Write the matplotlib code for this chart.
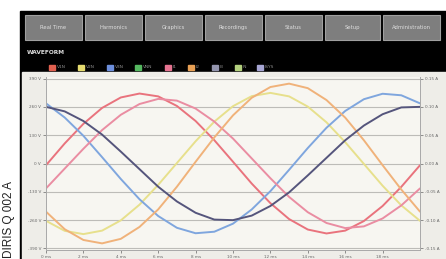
import matplotlib
matplotlib.use("Agg")
import matplotlib.pyplot as plt
from matplotlib.patches import Rectangle

# ---------------- data ----------------
time_ms = list(range(0, 21))  # 0..20 ms
v1 = [-8, 92, 182, 255, 303, 321, 308, 264, 195, 107, 8, -92, -182, -255, -303, -321, -308, -264, -195, -107, -8]
v2 = [-263, -309, -324, -308, -261, -189, -98, 2, 102, 192, 263, 309, 324, 308, 261, 189, 98, -2, -102, -192, -263]
v3 = [276, 211, 127, 29, -71, -164, -241, -295, -320, -313, -276, -211, -127, -29, 71, 164, 241, 295, 320, 313, 276]
i1 = [-0.044, -0.009, 0.026, 0.059, 0.086, 0.105, 0.114, 0.111, 0.097, 0.074, 0.044, 0.009, -0.026, -0.059, -0.086, -0.105, -0.114, -0.111, -0.097, -0.074, -0.044]
i2 = [-0.085, -0.116, -0.135, -0.141, -0.133, -0.112, -0.081, -0.041, 0.003, 0.046, 0.085, 0.116, 0.135, 0.141, 0.133, 0.112, 0.081, 0.041, -0.003, -0.046, -0.085]
i3 = [0.100, 0.092, 0.075, 0.051, 0.021, -0.010, -0.041, -0.067, -0.087, -0.099, -0.100, -0.092, -0.075, -0.051, -0.021, 0.010, 0.041, 0.067, 0.087, 0.099, 0.100]

v_ticks = [-390, -260, -130, 0, 130, 260, 390]
v_tick_labels = ["-390 V", "-260 V", "-130 V", "0 V", "130 V", "260 V", "390 V"]
i_ticks = [-0.15, -0.10, -0.05, 0.0, 0.05, 0.10, 0.15]
i_tick_labels = ["-0.15 A", "-0.10 A", "-0.05 A", "0.00 A", "0.05 A", "0.10 A", "0.15 A"]
x_ticks = [0, 2, 4, 6, 8, 10, 12, 14, 16, 18]
x_tick_labels = ["0 ms", "2 ms", "4 ms", "6 ms", "8 ms", "10 ms", "12 ms", "14 ms", "16 ms", "18 ms"]

menu_labels = ["Real Time", "Harmonics", "Graphics", "Recordings", "Status", "Setup", "Administration"]
legend_labels = ["V1N", "V2N", "V3N", "VNN", "I1", "I2", "I3", "IN", "ISYS"]
legend_colors = ["#e0604f", "#e6dc70", "#6d8fdc", "#55b860", "#e57390", "#e8a055", "#9294ad", "#b3d07e", "#a7a6d4"]

# ---------------- figure / chrome ----------------
W, H = 446, 259
fig = plt.figure(figsize=(W / 100, H / 100), dpi=100, facecolor="white")
bg = fig.add_axes([0, 0, 1, 1])
bg.set_xlim(0, W)
bg.set_ylim(H, 0)
bg.axis("off")

bg.add_patch(Rectangle((20, 11), 426, 248, color="black", zorder=0))

btn_x = [25, 85, 145, 205, 265, 325, 383]
btn_w = [57, 57, 57, 57, 57, 55, 57]
for bx, bw, lab in zip(btn_x, btn_w, menu_labels):
    bg.add_patch(Rectangle((bx, 15), bw, 25, facecolor="#7e7e7e", edgecolor="#a0a0a0", lw=0.8, zorder=1))
    bg.text(bx + bw / 2, 27.5, lab, color="#dedede", fontsize=3.8, ha="center", va="center", zorder=2)

bg.text(27, 53, "WAVEFORM", color="#dddddd", fontsize=4.2, fontweight="bold", ha="left", va="center")

leg_x = [49, 78, 107, 135, 165, 188, 212, 235, 257]
for lx, lab, col in zip(leg_x, legend_labels, legend_colors):
    bg.add_patch(Rectangle((lx, 64.5), 6, 5, color=col, zorder=2))
    bg.text(lx + 8, 67, lab, color="#8a8a8a", fontsize=3.2, ha="left", va="center")

bg.add_patch(Rectangle((22, 72), 424, 187, color="#eeede8", zorder=1))

bg.text(9, 257.5, "DIRIS Q 002 A", rotation=90, fontsize=8.5, family="Liberation Sans",
        color="#222222", ha="center", va="bottom")

# ---------------- plot ----------------
ax = fig.add_axes([46 / W, (H - 250) / H, 374 / W, 173 / H])
ax.set_facecolor("#f7f6f1")
ax.set_xlim(0, 20)
ax.set_ylim(-396.9, 396.9)
ax2 = ax.twinx()
ax2.set_ylim(-0.1527, 0.1527)

lw = 1.4
ax.plot(time_ms, v1, color="#e9737d", lw=lw, solid_capstyle="round", solid_joinstyle="round")
ax.plot(time_ms, v2, color="#e7e08c", lw=lw, solid_capstyle="round", solid_joinstyle="round")
ax.plot(time_ms, v3, color="#7fa6de", lw=lw, solid_capstyle="round", solid_joinstyle="round")
ax2.plot(time_ms, i1, color="#ea8da2", lw=lw, solid_capstyle="round", solid_joinstyle="round")
ax2.plot(time_ms, i2, color="#f0b27a", lw=lw, solid_capstyle="round", solid_joinstyle="round")
ax2.plot(time_ms, i3, color="#55557c", lw=lw, solid_capstyle="round", solid_joinstyle="round")

ax.set_yticks(v_ticks)
ax.set_yticklabels(v_tick_labels)
ax2.set_yticks(i_ticks)
ax2.set_yticklabels(i_tick_labels)
ax.set_xticks(x_ticks)
ax.set_xticklabels(x_tick_labels)

ax.grid(axis="y", color="#bdbcb8", lw=0.8)
ax.grid(axis="x", visible=False)
for a in (ax, ax2):
    a.tick_params(labelsize=3.0, colors="#666666", length=2, width=0.5, pad=1.5)
    for s in a.spines.values():
        s.set_color("#aaaaaa")
        s.set_linewidth(0.7)
    a.spines["top"].set_visible(False)

fig.savefig("out.png", dpi=100, facecolor="white")
